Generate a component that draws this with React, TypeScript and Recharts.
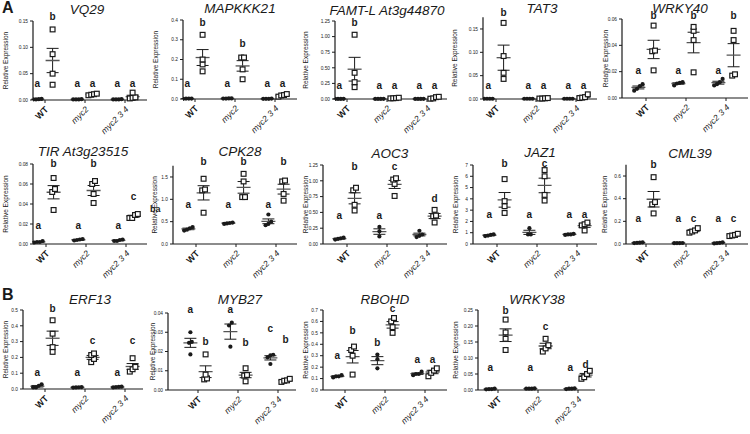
import React from "react";
import { ScatterChart, Scatter, XAxis, YAxis, ErrorBar, ReferenceLine } from "recharts";

const GENOTYPES = ["WT", "myc2", "myc2 3 4"];

// groups: WT ●, WT □, myc2 ●, myc2 □, myc2 3 4 ●, myc2 3 4 □
const VQ29 = [
  [0.001, 0.0015, 0.001, 0.002],
  [0.134, 0.087, 0.05, 0.029],
  [0.001, 0.001, 0.0015, 0.001],
  [0.009, 0.011, 0.012, 0.01],
  [0.001, 0.001, 0.001, 0.0015],
  [0.014, 0.004, 0.003, 0.005],
];
const VQ29_LETTERS = ["a", "b", "a", "a", "a", "a"];
const VQ29_LETTER_Y = [0.032, 0.159, 0.032, 0.032, 0.032, 0.032];

const MAPKKK21 = [
  [0.002, 0.002, 0.001, 0.002],
  [0.325, 0.2, 0.175, 0.14],
  [0.003, 0.002, 0.002, 0.003],
  [0.21, 0.21, 0.15, 0.1],
  [0.001, 0.001, 0.002, 0.001],
  [0.025, 0.02, 0.012, 0.018],
];
const MAPKKK21_LETTERS = ["a", "b", "a", "b", "a", "a"];
const MAPKKK21_LETTER_Y = [0.08, 0.385, 0.08, 0.28, 0.08, 0.08];

const FAMT = [
  [0.002, 0.003, 0.002, 0.002],
  [1.03, 0.42, 0.27, 0.19],
  [0.002, 0.002, 0.003, 0.002],
  [0.015, 0.01, 0.012, 0.02],
  [0.002, 0.002, 0.003, 0.002],
  [0.03, 0.005, 0.01, 0.035],
];
const FAMT_LETTERS = ["a", "b", "a", "a", "a", "a"];
const FAMT_LETTER_Y = [0.22, 1.22, 0.22, 0.22, 0.22, 0.22];

const TAT3 = [
  [0.0005, 0.0005, 0.0005, 0.0005],
  [0.163, 0.092, 0.056, 0.043],
  [0.0005, 0.0005, 0.0005, 0.0005],
  [0.001, 0.0015, 0.001, 0.002],
  [0.0005, 0.0005, 0.0005, 0.0005],
  [0.003, 0.002, 0.004, 0.01],
];
const TAT3_LETTERS = ["a", "b", "a", "a", "a", "a"];
const TAT3_LETTER_Y = [0.028, 0.185, 0.028, 0.028, 0.028, 0.028];

const WRKY40 = [
  [0.0105, 0.009, 0.007, 0.0055],
  [0.055, 0.036, 0.0355, 0.021],
  [0.012, 0.011, 0.0095, 0.0115],
  [0.051, 0.054, 0.044, 0.0195],
  [0.0145, 0.012, 0.0105, 0.0095],
  [0.051, 0.044, 0.017, 0.018],
];
const WRKY40_LETTERS = ["a", "b", "a", "b", "a", "b"];
const WRKY40_LETTER_Y = [0.021, 0.063, 0.021, 0.063, 0.021, 0.063];

const TIR = [
  [0.002, 0.003, 0.002, 0.0015],
  [0.066, 0.055, 0.052, 0.034],
  [0.0045, 0.004, 0.0035, 0.005],
  [0.063, 0.06, 0.05, 0.041],
  [0.004, 0.003, 0.0045, 0.003],
  [0.03, 0.029, 0.026, 0.026],
];
const TIR_LETTERS = ["a", "b", "a", "b", "a", "c"];
const TIR_LETTER_Y = [0.0187, 0.0807, 0.0187, 0.0807, 0.0187, 0.0477];

const CPK28 = [
  [0.38, 0.35, 0.32, 0.3],
  [1.46, 1.22, 1.2, 0.7],
  [0.48, 0.46, 0.45, 0.47],
  [1.57, 1.4, 1.05, 1.05],
  [0.66, 0.5, 0.45, 0.42],
  [1.42, 1.4, 1.12, 0.97],
];
const CPK28_LETTERS = ["a", "b", "a", "b", "a", "b"];
const CPK28_LETTER_Y = [0.895, 1.84, 0.895, 1.84, 0.895, 1.84];

const AOC3 = [
  [0.1, 0.09, 0.08, 0.07],
  [0.89, 0.85, 0.62, 0.53],
  [0.27, 0.2, 0.12],
  [1.04, 1.02, 0.95, 0.76],
  [0.21, 0.15, 0.13, 0.11],
  [0.54, 0.45, 0.44, 0.34],
];
const AOC3_LETTERS = ["a", "b", "a", "c", "", "d"];
const AOC3_LETTER_Y = [0.45, 1.22, 0.45, 1.22, 0.45, 0.72];

const JAZ1 = [
  [0.85, 0.8, 0.7, 0.75],
  [5.75, 3.8, 3.35, 2.75],
  [1.4, 0.85, 0.85],
  [6.55, 6.0, 4.35, 3.85],
  [0.9, 0.85, 0.8, 0.85],
  [1.9, 1.75, 1.65, 1.2],
];
const JAZ1_LETTERS = ["a", "b", "a", "c", "a", "a"];
const JAZ1_LETTER_Y = [2.6, 7.15, 2.6, 7.15, 2.6, 2.6];

const CML39 = [
  [0.015, 0.01, 0.008, 0.012],
  [0.59, 0.37, 0.35, 0.27],
  [0.008, 0.008, 0.007, 0.009],
  [0.14, 0.12, 0.11, 0.1],
  [0.005, 0.008, 0.015, 0.01],
  [0.09, 0.08, 0.075, 0.07],
];
const CML39_LETTERS = ["a", "b", "a", "c", "a", "c"];
const CML39_LETTER_Y = [0.225, 0.705, 0.225, 0.225, 0.225, 0.225];

const ERF13 = [
  [0.03, 0.02, 0.01, 0.01],
  [0.435, 0.35, 0.265, 0.235],
  [0.012, 0.01, 0.009, 0.011],
  [0.225, 0.215, 0.19, 0.17],
  [0.015, 0.012, 0.01, 0.013],
  [0.195, 0.14, 0.125, 0.11],
];
const ERF13_LETTERS = ["a", "b", "a", "c", "a", "c"];
const ERF13_LETTER_Y = [0.107, 0.51, 0.107, 0.305, 0.107, 0.305];

const MYB27 = [
  [0.03, 0.025, 0.0245, 0.0185],
  [0.0185, 0.008, 0.0055, 0.006],
  [0.035, 0.0335, 0.0225],
  [0.0113, 0.0078, 0.0075, 0.0045],
  [0.0183, 0.018, 0.017, 0.0135],
  [0.0058, 0.005, 0.0048, 0.0042],
];
const MYB27_LETTERS = ["a", "b", "a", "b", "c", "b"];
const MYB27_LETTER_Y = [0.0417, 0.025, 0.0417, 0.0249, 0.0317, 0.026];

const RBOHD = [
  [0.13, 0.12, 0.11, 0.12],
  [0.38, 0.35, 0.3, 0.135],
  [0.31, 0.27, 0.19],
  [0.63, 0.6, 0.55, 0.5],
  [0.16, 0.14, 0.14, 0.13],
  [0.19, 0.17, 0.15, 0.12],
];
const RBOHD_LETTERS = ["a", "b", "b", "c", "a", "a"];
const RBOHD_LETTER_Y = [0.3, 0.52, 0.42, 0.71, 0.27, 0.27];

const WRKY38 = [
  [0.003, 0.004, 0.003, 0.002],
  [0.22, 0.18, 0.16, 0.125],
  [0.004, 0.005, 0.004, 0.004],
  [0.16, 0.14, 0.13, 0.12],
  [0.004, 0.003, 0.005, 0.004],
  [0.06, 0.05, 0.04, 0.035],
];
const WRKY38_LETTERS = ["a", "b", "a", "c", "a", "d"];
const WRKY38_LETTER_Y = [0.07, 0.25, 0.07, 0.2, 0.07, 0.08];

const FONT = '"Liberation Sans", Arial, sans-serif';
const INK = "#1a1a1a";
const OFF = 0.19;

// layout: ax = y-axis pixel, x1 = right end, y0 = pixel of 0, yT = pixel of axisTop,
// top = plot top, wt = WT tick pixel, lx = y-label centre, (tx, ty) = title centre
const PANELS = [
  { title: "VQ29", data: VQ29, letters: VQ29_LETTERS, letterY: VQ29_LETTER_Y, ticks: [0, 0.05, 0.1, 0.15], dec: 2, axisTop: 0.15, ax: 33, x1: 147, y0: 100, yT: 21, top: 11, wt: 45, lx: 5, tx: 87, ty: 9 },
  { title: "MAPKKK21", data: MAPKKK21, letters: MAPKKK21_LETTERS, letterY: MAPKKK21_LETTER_Y, ticks: [0, 0.1, 0.2, 0.3, 0.4], dec: 1, axisTop: 0.4, ax: 183, x1: 297, y0: 99, yT: 20, top: 11, wt: 195, lx: 155, tx: 240, ty: 8 },
  { title: "FAMT-L At3g44870", data: FAMT, letters: FAMT_LETTERS, letterY: FAMT_LETTER_Y, ticks: [0, 0.25, 0.5, 0.75, 1, 1.25], dec: 2, axisTop: 1.25, ax: 335, x1: 447, y0: 99, yT: 21, top: 11, wt: 347, lx: 305, tx: 387, ty: 10 },
  { title: "TAT3", data: TAT3, letters: TAT3_LETTERS, letterY: TAT3_LETTER_Y, ticks: [0, 0.05, 0.1, 0.15], dec: 2, axisTop: 0.175, ax: 483, x1: 597, y0: 99, yT: 17.3, top: 11, wt: 496, lx: 455, tx: 542, ty: 7.5 },
  { title: "WRKY40", data: WRKY40, letters: WRKY40_LETTERS, letterY: WRKY40_LETTER_Y, ticks: [0, 0.02, 0.04, 0.06], dec: 2, axisTop: 0.06, ax: 622, x1: 748, y0: 98, yT: 19, top: 11, wt: 646, lx: 605, tx: 680, ty: 7.5 },
  { title: "TIR At3g23515", data: TIR, letters: TIR_LETTERS, letterY: TIR_LETTER_Y, ticks: [0, 0.02, 0.04, 0.06, 0.08], dec: 2, axisTop: 0.08, ax: 33, x1: 147, y0: 244, yT: 164, top: 157, wt: 46, lx: 5, tx: 83, ty: 151 },
  { title: "CPK28", data: CPK28, letters: CPK28_LETTERS, letterY: CPK28_LETTER_Y, ticks: [0, 0.5, 1, 1.5], dec: 1, axisTop: 1.75, ax: 173, x1: 297, y0: 244, yT: 165.8, top: 157, wt: 196, lx: 155, tx: 240, ty: 151 },
  { title: "AOC3", data: AOC3, letters: AOC3_LETTERS, letterY: AOC3_LETTER_Y, ticks: [0, 0.25, 0.5, 0.75, 1, 1.25], dec: 2, axisTop: 1.25, ax: 323, x1: 447, y0: 244, yT: 165, top: 157, wt: 347, lx: 305, tx: 390, ty: 153 },
  { title: "JAZ1", data: JAZ1, letters: JAZ1_LETTERS, letterY: JAZ1_LETTER_Y, ticks: [0, 1, 2, 3, 4, 5, 6, 7], dec: 0, axisTop: 7, ax: 473, x1: 597, y0: 244, yT: 165, top: 157, wt: 497, lx: 455, tx: 540, ty: 151.5 },
  { title: "CML39", data: CML39, letters: CML39_LETTERS, letterY: CML39_LETTER_Y, ticks: [0, 0.2, 0.4, 0.6], dec: 1, axisTop: 0.7, ax: 626, x1: 748, y0: 244, yT: 164.7, top: 157, wt: 646, lx: 605, tx: 690, ty: 153 },
  { title: "ERF13", data: ERF13, letters: ERF13_LETTERS, letterY: ERF13_LETTER_Y, ticks: [0, 0.1, 0.2, 0.3, 0.4, 0.5], dec: 1, axisTop: 0.5, ax: 23, x1: 143, y0: 389, yT: 310, top: 303, wt: 45, lx: 5, tx: 90, ty: 299 },
  { title: "MYB27", data: MYB27, letters: MYB27_LETTERS, letterY: MYB27_LETTER_Y, ticks: [0, 0.01, 0.02, 0.03, 0.04], dec: 2, axisTop: 0.04, ax: 168, x1: 296, y0: 390, yT: 313, top: 303, wt: 198, lx: 152, tx: 240, ty: 299 },
  { title: "RBOHD", data: RBOHD, letters: RBOHD_LETTERS, letterY: RBOHD_LETTER_Y, ticks: [0, 0.1, 0.2, 0.3, 0.4, 0.5, 0.6, 0.7], dec: 1, axisTop: 0.7, ax: 323, x1: 447, y0: 390, yT: 310, top: 303, wt: 345, lx: 305, tx: 385, ty: 299 },
  { title: "WRKY38", data: WRKY38, letters: WRKY38_LETTERS, letterY: WRKY38_LETTER_Y, ticks: [0, 0.05, 0.1, 0.15, 0.2, 0.25], dec: 2, axisTop: 0.25, ax: 478, x1: 595, y0: 390, yT: 310, top: 303, wt: 498, lx: 455, tx: 537, ty: 299 },
];

const SP = 40;
const YW = 40;
const XH = 45;

function buildSeries(p) {
  const filled = [];
  const open = [];
  const means = [];
  const letters = [];
  const thr = p.axisTop * 0.045;
  p.data.forEach((vals, g) => {
    const gx = Math.floor(g / 2) + 1 + (g % 2 === 0 ? -OFF : OFF);
    const sorted = [...vals].sort((a, b) => a - b);
    const clusters = [];
    let cur = [];
    sorted.forEach((v) => {
      if (cur.length && v - cur[cur.length - 1] > thr) {
        clusters.push(cur);
        cur = [];
      }
      cur.push(v);
    });
    if (cur.length) clusters.push(cur);
    clusters.forEach((c) =>
      c.forEach((v, k) => {
        const pt = { x: gx + (k - (c.length - 1) / 2) * 0.07, y: v };
        (g % 2 === 0 ? filled : open).push(pt);
      })
    );
    const mean = vals.reduce((a, b) => a + b, 0) / vals.length;
    const sd = Math.sqrt(vals.reduce((a, b) => a + (b - mean) ** 2, 0) / (vals.length - 1));
    means.push({ x: gx, y: mean, e: sd / Math.sqrt(vals.length) });
    if (p.letters[g]) letters.push({ x: gx, y: p.letterY[g], t: p.letters[g] });
  });
  return { filled, open, means, letters };
}

const XTick = ({ x, y, payload }) => {
  const i = Math.round(payload.value) - 1;
  const ax = x + 4;
  const ay = y + 5;
  return (
    <text
      x={ax}
      y={ay}
      transform={`rotate(-45, ${ax}, ${ay})`}
      textAnchor="end"
      fontSize={i === 0 ? 9 : 8.5}
      fontWeight={i === 0 ? "bold" : "normal"}
      fontStyle={i === 0 ? "normal" : "italic"}
      fill={INK}
    >
      {GENOTYPES[i]}
    </text>
  );
};

function Panel({ p }) {
  const { filled, open, means, letters } = buildSeries(p);
  const plotH = p.y0 - p.top;
  const axisPx = p.y0 - p.yT;
  const D = (p.axisTop * plotH) / axisPx;
  const xs = 1 - (p.wt - p.ax) / SP;
  const xe = 1 + (p.x1 - p.wt) / SP;
  const left = p.ax - YW;
  const width = p.x1 - p.ax + YW + 3;
  const height = plotH + 5 + XH;

  const yLabel = (props) => {
    const vb = props.viewBox;
    const cx = vb.x + (p.lx - left);
    const cy = vb.y + vb.height - axisPx / 2;
    return (
      <text x={cx} y={cy} transform={`rotate(-90, ${cx}, ${cy})`} textAnchor="middle" dominantBaseline="central" fontSize={6.5} fill={INK}>
        Relative Expression
      </text>
    );
  };

  return (
    <div style={{ position: "absolute", left, top: p.top - 5 }}>
      <ScatterChart width={width} height={height} margin={{ top: 5, right: 3, bottom: 0, left: 0 }}>
        <XAxis
          type="number"
          dataKey="x"
          domain={[xs, xe]}
          ticks={[1, 2, 3]}
          interval={0}
          allowDataOverflow
          tick={<XTick />}
          tickSize={3}
          tickLine={{ stroke: INK }}
          axisLine={{ stroke: INK, strokeWidth: 1.2 }}
          height={XH}
        />
        <YAxis
          type="number"
          dataKey="y"
          domain={[0, D]}
          ticks={p.ticks}
          interval={0}
          tickFormatter={(v) => v.toFixed(p.dec)}
          tick={{ fontSize: 4.8, fill: INK }}
          tickSize={3}
          tickLine={{ stroke: INK }}
          axisLine={false}
          width={YW}
          label={{ content: yLabel }}
        />
        <ReferenceLine segment={[{ x: xs, y: 0 }, { x: xs, y: p.axisTop }]} stroke={INK} strokeWidth={1.2} />
        <Scatter
          data={means}
          isAnimationActive={false}
          shape={({ cx, cy }) => <line x1={cx - 7} x2={cx + 7} y1={cy} y2={cy} stroke="#555" strokeWidth={1.3} />}
        >
          <ErrorBar dataKey="e" direction="y" width={6} stroke={INK} strokeWidth={1} />
        </Scatter>
        <Scatter
          data={filled}
          isAnimationActive={false}
          shape={({ cx, cy }) => <circle cx={cx} cy={cy} r={2.1} fill={INK} />}
        />
        <Scatter
          data={open}
          isAnimationActive={false}
          shape={({ cx, cy }) => (
            <rect x={cx - 2.4} y={cy - 2.4} width={4.8} height={4.8} fill="#fff" stroke={INK} strokeWidth={1.2} />
          )}
        />
        <Scatter
          data={letters}
          isAnimationActive={false}
          shape={({ cx, cy, payload }) => (
            <text x={cx} y={cy + 3.5} textAnchor="middle" fontSize={10} fontWeight="bold" fill={INK}>
              {payload.t}
            </text>
          )}
        />
      </ScatterChart>
    </div>
  );
}

export default function App() {
  return (
    <div style={{ position: "absolute", left: 0, top: 0, width: 750, height: 434, background: "#fff", fontFamily: FONT, overflow: "hidden" }}>
      {PANELS.map((p) => (
        <Panel key={p.title} p={p} />
      ))}
      {PANELS.map((p) => (
        <div
          key={p.title + "-t"}
          style={{ position: "absolute", left: p.tx, top: p.ty, transform: "translate(-50%, -50%)", fontStyle: "italic", fontSize: 13.5, whiteSpace: "nowrap", color: INK }}
        >
          {p.title}
        </div>
      ))}
      <div style={{ position: "absolute", left: 2, top: -1, fontWeight: "bold", fontSize: 16, color: INK }}>A</div>
      <div style={{ position: "absolute", left: 2, top: 286, fontWeight: "bold", fontSize: 16, color: INK }}>B</div>
      <div style={{ position: "absolute", left: 150, top: 204, fontWeight: "bold", fontSize: 9, color: INK }}>ba</div>
    </div>
  );
}
